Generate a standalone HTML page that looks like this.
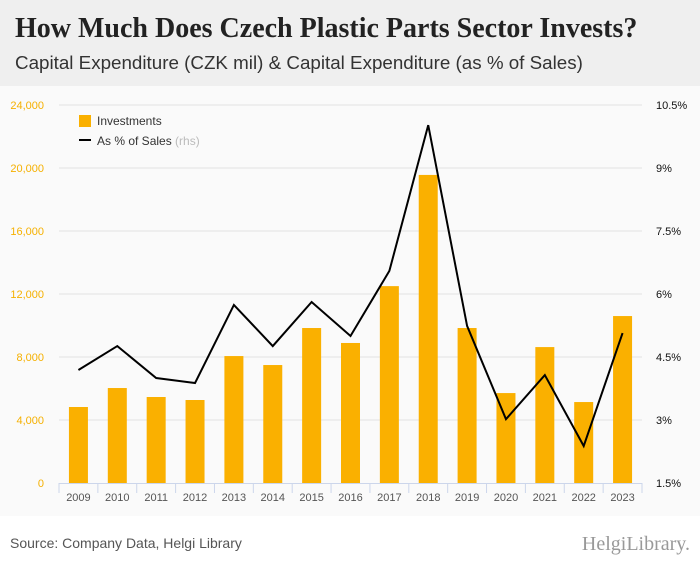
<!DOCTYPE html>
<html><head><meta charset="utf-8"><style>
body{margin:0;width:700px;height:568px;background:#fff;font-family:"Liberation Sans",sans-serif;overflow:hidden}
#hdr{position:absolute;left:0;top:0;width:700px;height:86px;background:#efefef}
#title{position:absolute;left:15px;top:13px;font:bold 28px "Liberation Serif",serif;color:#222}
#sub{position:absolute;left:15px;top:52px;font-size:18.8px;color:#333}
#chartbg{position:absolute;left:0;top:86px;width:700px;height:430px;background:#fafafa}
#src{position:absolute;left:10px;top:535px;font-size:14px;color:#555}
#logo{position:absolute;right:10px;top:533px;font:20px "Liberation Serif",serif;color:#999}
</style></head><body>
<div id="hdr"></div>
<div id="title">How Much Does Czech Plastic Parts Sector Invests?</div>
<div id="sub">Capital Expenditure (CZK mil) &amp; Capital Expenditure (as % of Sales)</div>
<div id="chartbg"></div>
<svg id="svg" width="700" height="568" style="position:absolute;left:0;top:0"></svg>
<div id="src">Source: Company Data, Helgi Library</div>
<div id="logo">HelgiLibrary.</div>
<script>
const years=["2009","2010","2011","2012","2013","2014","2015","2016","2017","2018","2019","2020","2021","2022","2023"];
const investments=[4825,6030,5460,5270,8060,7490,9840,8890,12500,19560,9840,5710,8630,5140,10600];
const pctSales=[4.19,4.76,4.0,3.88,5.74,4.76,5.81,5.0,6.55,10.02,5.24,3.02,4.07,2.38,5.07];
const leftTicks=[0,4000,8000,12000,16000,20000,24000];
const rightTicks=[1.5,3,4.5,6,7.5,9,10.5];
const rightLabels=["1.5%","3%","4.5%","6%","7.5%","9%","10.5%"];
const NS="http://www.w3.org/2000/svg";
const svg=document.getElementById('svg');
const X0=59,X1=642,Y0=483,Y1=105;
const slot=(X1-X0)/years.length;
const xc=i=>X0+slot*(i+0.5);
const yL=v=>Y0-(v/24000)*(Y0-Y1);
const yR=v=>Y0-((v-1.5)/9)*(Y0-Y1);
function mk(t,a,txt){const e=document.createElementNS(NS,t);for(const k in a)e.setAttribute(k,a[k]);if(txt!=null)e.textContent=txt;svg.appendChild(e);return e;}
leftTicks.forEach((v,i)=>{
 if(v>0){const g=mk('line',{x1:X0,x2:X1,y1:yL(v),y2:yL(v),stroke:'#e3e3e3','stroke-width':1});
 
 }
 const t=mk('text',{x:44,y:yL(v)+4,'text-anchor':'end','font-size':11,fill:'#f5b000','font-family':'Liberation Sans'},v.toLocaleString('en-US'));
 
 
});
rightTicks.forEach((v,i)=>{
 const t=mk('text',{x:656,y:yR(v)+4,'font-size':11,fill:'#111','font-family':'Liberation Sans'},rightLabels[i]);
 
 
});
investments.forEach((v,i)=>{
 const r=mk('rect',{x:xc(i)-9.5,y:yL(v),width:19,height:Y0-yL(v),fill:'#fab000'});
 
 
});
const ax=mk('line',{x1:X0,x2:X1,y1:Y0+0.5,y2:Y0+0.5,stroke:'#ccd6eb'});


years.forEach((y,i)=>{
 const tk=mk('line',{x1:X0+slot*i,x2:X0+slot*i,y1:Y0,y2:Y0+10,stroke:'#ccd6eb'});
 
 
 const t=mk('text',{x:xc(i),y:501,'text-anchor':'middle','font-size':11,fill:'#555','font-family':'Liberation Sans'},y);
 
 
});
const last=mk('line',{x1:X1,x2:X1,y1:Y0,y2:Y0+10,stroke:'#ccd6eb'});


const ln=mk('polyline',{points:pctSales.map((v,i)=>xc(i)+','+yR(v)).join(' '),fill:'none',stroke:'#000','stroke-width':2});


const lb=mk('rect',{x:79,y:115,width:12,height:12,fill:'#fab000'});


const lt=mk('text',{x:97,y:125,'font-size':12,fill:'#333','font-family':'Liberation Sans'},'Investments');


const ll=mk('line',{x1:79,x2:91,y1:140,y2:140,stroke:'#000','stroke-width':2});


const lt2=mk('text',{x:97,y:145,'font-size':12,fill:'#333','font-family':'Liberation Sans'},'As % of Sales ');


const ts=document.createElementNS(NS,'tspan');ts.setAttribute('fill','#bbb');ts.textContent='(rhs)';lt2.appendChild(ts);
</script>
</body></html>
